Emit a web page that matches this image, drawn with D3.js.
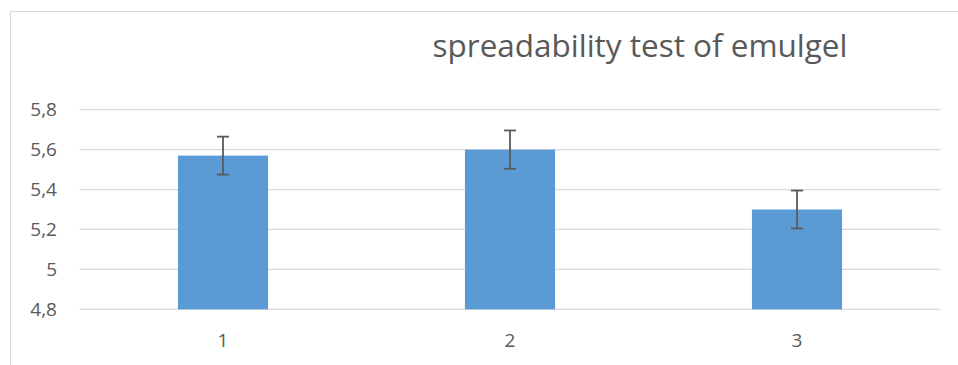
<!DOCTYPE html>
<html>
<head>
<meta charset="utf-8">
<script src="https://cdn.jsdelivr.net/npm/d3@7"></script>
<style>
  body { margin: 0; background: #fff; }
  text { font-family: "Open Sans", sans-serif; fill: #595959; }
</style>
</head>
<body>
<div id="chart"></div>
<script>
var categories = ["1", "2", "3"];
var values = [5.57, 5.60, 5.30];
var errors = [0.095, 0.096, 0.095];
var yTicks = [4.8, 5.0, 5.2, 5.4, 5.6, 5.8];
var yTickLabels = ["4,8", "5", "5,2", "5,4", "5,6", "5,8"];
var title = "spreadability test of emulgel";

function drawChart() {
    var w = 958;
    var h = 365;
    var left = 79.5, right = 940.5, top = 109.7, bottom = 309.3;

    var svg = d3.select("#chart")
                .append("svg")
                .attr("width", w)
                .attr("height", h);

    // chart area border (top and left visible)
    svg.append("path")
        .attr("d", "M10.5," + h + "V11.5H" + w)
        .attr("fill", "none")
        .attr("stroke", "#d9d9d9")
        .attr("stroke-width", 1);

    var x = d3.scaleBand()
                .domain(categories)
                .range([left, right])
                .paddingInner(0.686)
                .paddingOuter(0.343);

    var y = d3.scaleLinear()
                .domain([4.8, 5.8])
                .range([bottom, top]);

    // gridlines
    svg.append("g")
        .selectAll("line")
        .data(yTicks)
        .enter()
        .append("line")
        .attr("x1", left)
        .attr("x2", right)
        .attr("y1", function(d){ return y(d); })
        .attr("y2", function(d){ return y(d); })
        .attr("stroke", "#d9d9d9")
        .attr("stroke-width", 1.3);

    // y labels
    svg.append("g")
        .selectAll("text")
        .data(yTicks)
        .enter()
        .append("text")
        .text(function(d, i){ return yTickLabels[i]; })
        .attr("x", 57)
        .attr("y", function(d){ return y(d); })
        .attr("dy", "0.35em")
        .attr("text-anchor", "end")
        .style("font-size", "19px");

    // bars
    svg.append("g")
        .selectAll("rect")
        .data(values)
        .enter()
        .append("rect")
        .attr("x", function(d, i){ return x(categories[i]); })
        .attr("width", x.bandwidth())
        .attr("y", function(d){ return y(d); })
        .attr("height", function(d){ return y(4.8) - y(d); })
        .attr("fill", "#5b9bd5");

    // error bars
    var eb = svg.append("g")
        .attr("stroke", "#595959")
        .attr("stroke-width", 1.8);

    values.forEach(function(v, i){
        var cx = x(categories[i]) + x.bandwidth() / 2;
        var y1 = y(v + errors[i]);
        var y2 = y(v - errors[i]);
        eb.append("line").attr("x1", cx).attr("x2", cx).attr("y1", y1).attr("y2", y2);
        eb.append("line").attr("x1", cx - 6).attr("x2", cx + 6).attr("y1", y1).attr("y2", y1);
        eb.append("line").attr("x1", cx - 6).attr("x2", cx + 6).attr("y1", y2).attr("y2", y2);
    });

    // x labels
    svg.append("g")
        .selectAll("text")
        .data(categories)
        .enter()
        .append("text")
        .text(function(d){ return d; })
        .attr("x", function(d){ return x(d) + x.bandwidth() / 2; })
        .attr("y", 340)
        .attr("dy", "0.35em")
        .attr("text-anchor", "middle")
        .style("font-size", "19px");

    // title, sized to the reference width
    var t = svg.append("text")
        .text(title)
        .attr("x", 640)
        .attr("y", 57)
        .attr("text-anchor", "middle")
        .style("font-size", "26px");
    var tw = t.node().getComputedTextLength();
    t.style("font-size", (26 * 415 / tw) + "px");
}

window.onload = drawChart;
</script>
</body>
</html>
